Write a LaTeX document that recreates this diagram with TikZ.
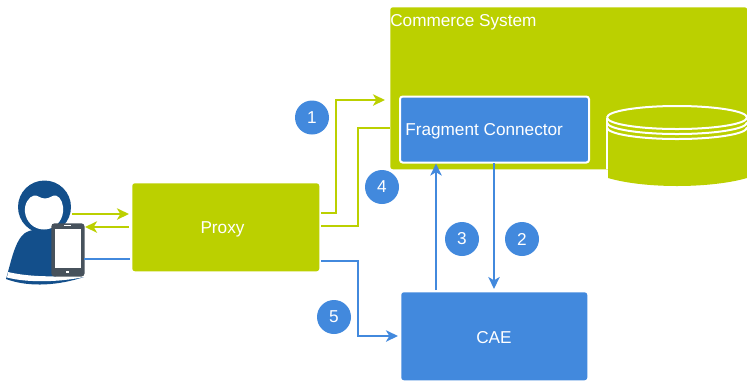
\documentclass[tikz,border=0pt]{standalone}
\usepackage{fontspec}
\setmainfont{Liberation Sans}
\usepackage{tikz}
\usetikzlibrary{arrows.meta,positioning,calc}
\definecolor{limegreen}{RGB}{187,208,0}
\definecolor{skyblue}{RGB}{66,137,221}
\definecolor{navyblue}{RGB}{19,79,139}
\definecolor{slategrey}{RGB}{71,82,92}
\tikzset{
    greenbox/.style={fill=limegreen, rounded corners=2pt, inner sep=0pt},
    bluebox/.style={fill=skyblue, rounded corners=2pt, inner sep=0pt},
    boxtext/.style={text=white, inner sep=0pt, font=\fontsize{12.9}{15}\selectfont},
    numdot/.style={circle, fill=skyblue, minimum size=25.5pt, inner sep=0pt, text=white, font=\fontsize{12.9}{15}\selectfont},
    greenline/.style={draw=limegreen, line width=2pt},
    blueline/.style={draw=skyblue, line width=2pt},
    tip/.style={-{Stealth[length=9pt,width=8.5pt,inset=2.5pt]}}
}
\begin{document}
\begin{tikzpicture}[x=.75pt,y=-.75pt]
            \useasboundingbox (0,0) rectangle (747,380);
            \clip (0,0) rectangle (747,380);
            % commerce system with database
            \node[greenbox, minimum width=267.75pt, minimum height=121.5pt, anchor=north west] (commerce) at (390,7) {};
            \node[boxtext, anchor=base west] (commercelabel) at (390,26) {Commerce System};
            \fill[limegreen] (608,165) -- (608,178) .. controls (625,183) and (650,186) .. (677,186) .. controls (704,186) and (730,183) .. (747,178) -- (747,165) -- cycle;
            \draw[white, line width=1.5pt] (607,169) -- (607,117.5);
            \draw[white, line width=1.5pt] (607,117.5) arc[start angle=180, end angle=-180, x radius=70, y radius=11.5];
            \draw[white, line width=1.5pt] (607,122.5) arc[start angle=180, end angle=0, x radius=70, y radius=11.5];
            \draw[white, line width=1.5pt] (607,127.5) arc[start angle=180, end angle=0, x radius=70, y radius=11.5];
            \node[bluebox, draw=white, line width=1.5pt, outer sep=0pt, minimum width=141.75pt, minimum height=49.5pt, anchor=north west] (fragment) at (400,96.5) {};
            \node[boxtext, anchor=base west] (fragmentlabel) at (405,135) {Fragment Connector};
            % proxy and cae
            \node[greenbox, minimum width=140.25pt, minimum height=66pt, anchor=north west] (proxy) at (132,183) {};
            \node[boxtext] (proxylabel) at (222.5,229.5) {Proxy};
            \node[bluebox, minimum width=139.5pt, minimum height=66pt, anchor=north west] (cae) at (401,292) {};
            \node[boxtext] (caelabel) at (494,338) {CAE};
            % user with phone
            \fill[navyblue] (6,279) .. controls (11,262) and (15,240) .. (25,233) .. controls (32,229) and (38,229) .. (45,229) .. controls (60,229) and (70,240) .. (84,277) .. controls (60,285) and (30,288) .. (6,279) -- cycle;
            \fill[white] (8,272) .. controls (25,276) and (50,278) .. (84,274.5) -- (84,277) .. controls (60,282) and (28,283) .. (7,277.5) -- cycle;
            \fill[navyblue] (44.5,207) circle[radius=26.5];
            \fill[white] (45,198.5) .. controls (50,198.5) and (52,195) .. (56,195.5) .. controls (61,197) and (64,205) .. (63,212) .. controls (62,222) and (54,229.5) .. (44,229.5) .. controls (34,229.5) and (26,222) .. (25,212) .. controls (24,204) and (29,196.5) .. (34,195.5) .. controls (38,195) and (40,198.5) .. (45,198.5) -- cycle;
            \node[fill=slategrey, rounded corners=2.5pt, minimum width=25pt, minimum height=40pt, inner sep=0pt, anchor=north west] (phone) at (51,223) {};
            \node[fill=white, minimum width=20pt, minimum height=29pt, inner sep=0pt, anchor=north west] (screen) at (54.5,229) {};
            \fill[white] (63.5,224.5) rectangle (71,226);
            \fill[white] (66,271) rectangle (68.5,273);
            % free ends of the connectors
            \coordinate (userout) at (72,214);
            \coordinate (proxyin) at (129,214);
            \coordinate (proxyback) at (129,227);
            \coordinate (userin) at (85,227);
            \coordinate (userblue) at (84,259);
            \coordinate (proxyblue) at (130,259);
            \coordinate (proxyone) at (321,213);
            \coordinate (commerceone) at (385,100);
            \coordinate (proxyfour) at (321,226);
            \coordinate (commercefour) at (390,128);
            \coordinate (proxyfive) at (321,261);
            \coordinate (caefive) at (398,336);
            \coordinate (caethree) at (436,290);
            \coordinate (fragmentthree) at (436,163.5);
            \coordinate (fragmenttwo) at (494,163);
            \coordinate (caetwo) at (494,289);
            % connectors
            \draw[greenline, tip] (userout) to (proxyin);
            \draw[greenline, tip] (proxyback) to (userin);
            \draw[blueline] (userblue) to (proxyblue);
            \draw[greenline, tip] (proxyone) -- (336,213) -- (336,100) -- (commerceone);
            \draw[greenline] (proxyfour) -- (358,226) -- (358,128) -- (commercefour);
            \draw[blueline, tip] (proxyfive) -- (358,261) -- (358,336) -- (caefive);
            \draw[blueline, tip] (caethree) to (fragmentthree);
            \draw[blueline, tip] (fragmenttwo) to (caetwo);
            % numbers
            \node[numdot] (one) at (312,117.5) {1};
            \node[numdot] (two) at (522,239) {2};
            \node[numdot] (three) at (462,239) {3};
            \node[numdot] (four) at (382,187) {4};
            \node[numdot] (five) at (334,317) {5};
        \end{tikzpicture}
\end{document}
